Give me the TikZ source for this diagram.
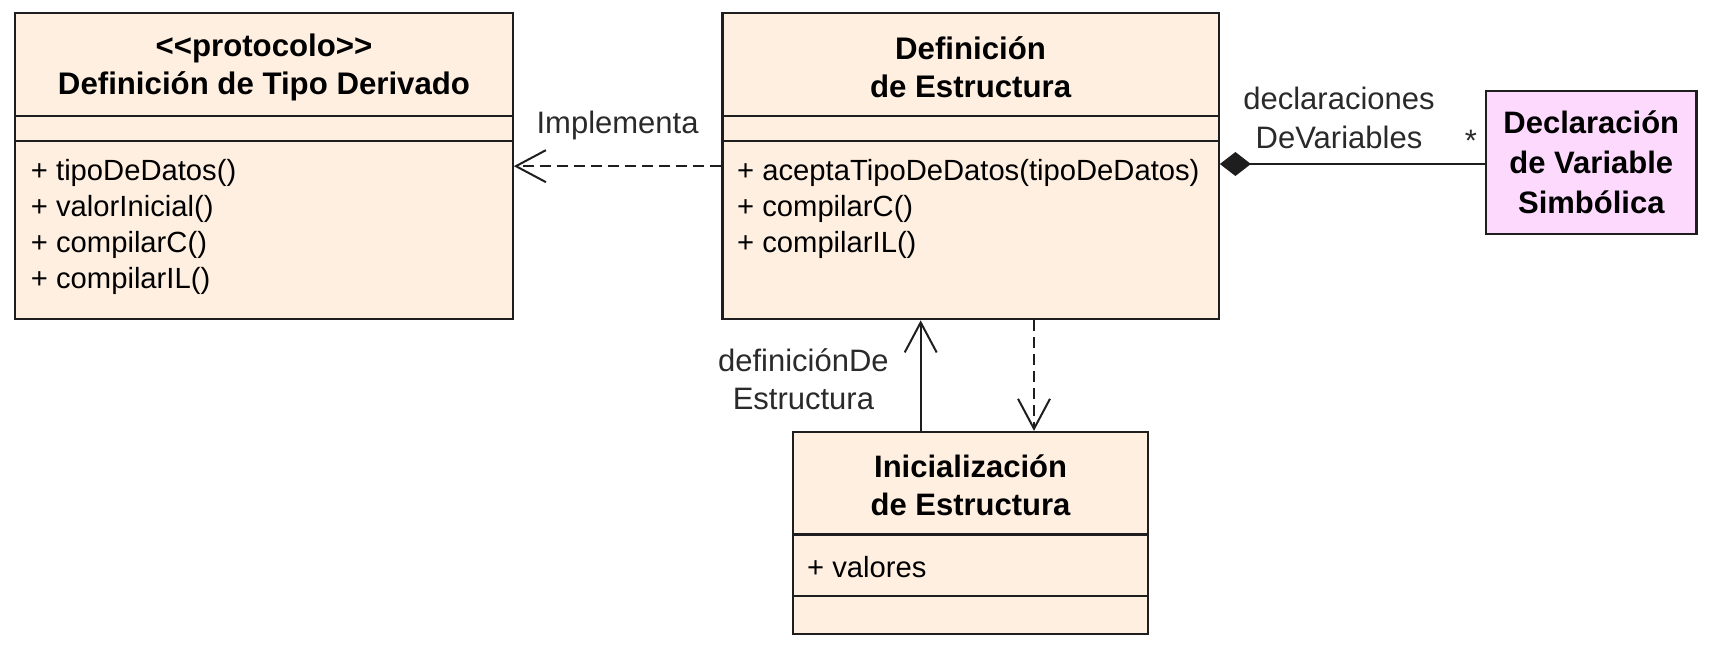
\documentclass[tikz,border=0pt]{standalone}
\usepackage{fontspec}
\setmainfont{Liberation Sans}
\usetikzlibrary{arrows.meta}
\definecolor{peach}{HTML}{FEEFE1}
\definecolor{pinkbox}{HTML}{FDDAFD}
\definecolor{edge}{HTML}{1E1E1E}
\definecolor{labelgray}{HTML}{2A2A2A}
\begin{document}
\begin{tikzpicture}[x=0.5pt,y=-0.5pt,
  box/.style={draw=edge, line width=1.1pt, inner sep=0pt},
  ttl/.style={font=\fontsize{15.6}{19}\selectfont\bfseries, align=center, inner sep=0pt},
  mth/.style={font=\fontsize{14.6}{18}\selectfont, anchor=west, align=left, inner sep=0pt},
  lbl/.style={font=\fontsize{15.5}{19.5}\selectfont, text=labelgray, inner sep=0pt, align=center},
  sepline/.style={draw=edge, line width=1.1pt},
  dep/.style={draw=edge, line width=1pt, dash pattern=on 5.5pt off 3pt, -{Straight Barb[length=15pt,width=16pt]}},
  assoc/.style={draw=edge, line width=1pt, -{Straight Barb[length=15pt,width=16pt]}},
  comp/.style={draw=edge, line width=1pt, {Diamond[length=15.5pt,width=12pt]}-}
]
\useasboundingbox (0,0) rectangle (1714,655);

% boxes
\node[box, fill=peach, minimum width=248.7pt, minimum height=153.05pt] (tipo) at (264,166.15) {};
\node[box, fill=peach, minimum width=248.2pt, minimum height=153.05pt] (estr) at (970.6,166.15) {};
\node[box, fill=pinkbox, minimum width=105.2pt, minimum height=71.6pt] (decl) at (1591.3,162.3) {};
\node[box, fill=peach, minimum width=177.7pt, minimum height=101pt] (ini) at (970.6,533) {};

% separators
\draw[sepline] (tipo.west |- 0,115.9) -- (tipo.east |- 0,115.9);
\draw[sepline] (tipo.west |- 0,141) -- (tipo.east |- 0,141);
\draw[sepline] (estr.west |- 0,115.9) -- (estr.east |- 0,115.9);
\draw[sepline] (estr.west |- 0,141) -- (estr.east |- 0,141);
\draw[sepline] (ini.west |- 0,534.5) -- (ini.east |- 0,534.5);
\draw[sepline] (ini.west |- 0,596) -- (ini.east |- 0,596);

% texts
\node[ttl] (tipoT) at (264,67.3) {{<}{<}protocolo{>}{>}\\Definición de Tipo Derivado};
\node[mth] (tipoM) at (30.6,226.5) {+ tipoDeDatos()\\+ valorInicial()\\+ compilarC()\\+ compilarIL()};
\node[ttl] (estrT) at (970.6,67.3) {Definición\\de Estructura};
\node[mth] (estrM) at (736.8,208.5) {+ aceptaTipoDeDatos(tipoDeDatos)\\+ compilarC()\\+ compilarIL()};
\node[ttl, font=\fontsize{15.5}{20}\selectfont\bfseries] (declT) at (1591.3,162.3) {Declaración\\de Variable\\Simbólica};
\node[ttl, font=\fontsize{15.5}{19}\selectfont\bfseries] (iniT) at (970.6,484.9) {Inicialización\\de Estructura};
\node[mth] (iniM) at (806.7,567) {+ valores};

% connectors
\draw[dep] (estr.west) -- (tipo.east);
\node[lbl] (implL) at (617.6,125.7) {Implementa};

\coordinate (cy) at (0,164);
\draw[comp] (estr.east |- cy) -- (decl.west |- cy);
\node[lbl] (declL) at (1339,117.5) {declaraciones\\DeVariables};
\node[lbl] (star) at (1471,141) {*};

\coordinate (sx) at (920.7,0);
\coordinate (dx) at (1034,0);
\draw[assoc] (sx |- ini.north) -- (sx |- estr.south);
\node[lbl, font=\fontsize{15.5}{19}\selectfont] (defL) at (803.4,378.8) {definiciónDe\\Estructura};
\draw[dep] (dx |- estr.south) -- (dx |- ini.north);
\end{tikzpicture}
\end{document}
